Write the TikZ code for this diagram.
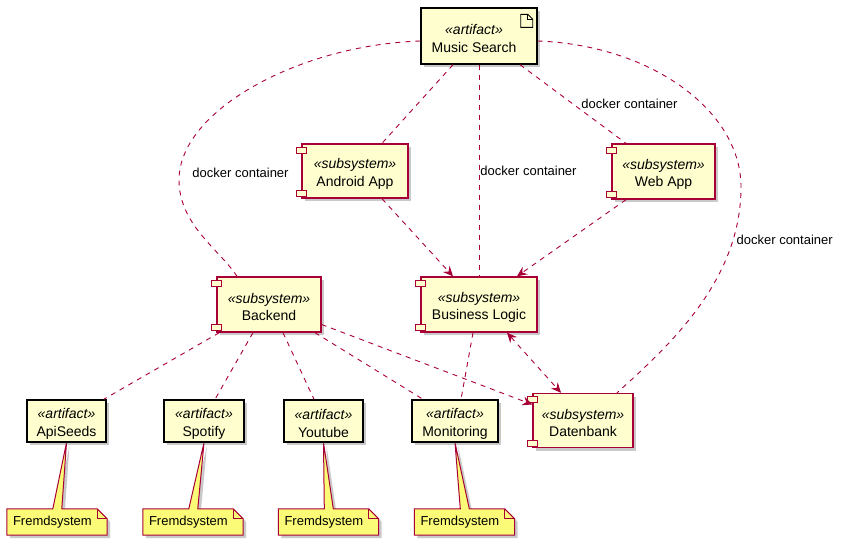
\documentclass[tikz,border=0pt]{standalone}
\usepackage{fontspec}
\setmainfont{Liberation Sans}
\usetikzlibrary{shadows,arrows.meta,calc}
\definecolor{umlred}{HTML}{A80036}
\definecolor{umlfill}{HTML}{FEFECE}
\definecolor{notefill}{HTML}{FBFB77}
\pgfdeclarelayer{bg}
\pgfsetlayers{bg,main}
\newcommand\stereo[1]{\rule{0pt}{15.5pt}\textit{«#1»}}
\begin{document}
\begin{tikzpicture}[x=1pt,y=-1pt,
  shadowed/.style={drop shadow={shadow xshift=3pt,shadow yshift=-3pt,opacity=0.3,fill=black!70}},
  box/.style={rectangle, fill=umlfill, line width=1.4pt, inner sep=0pt, align=center,
    font=\fontsize{14}{17.5}\selectfont, shadowed},
  artifact/.style={box, draw=black},
  component/.style={box, draw=umlred},
  compsmall/.style={draw=umlred, fill=umlfill, line width=1.1pt},
  notebox/.style={rectangle, inner xsep=6pt, inner ysep=0pt, text width=88pt, minimum height=26pt,
    align=left, font=\fontsize{13}{15}\selectfont},
  notebody/.style={fill=notefill, draw=umlred, line width=1pt, shadowed},
  notefold/.style={draw=umlred, line width=1pt},
  lbl/.style={font=\fontsize{13}{15}\selectfont, inner sep=1pt},
  dep/.style={draw=umlred, line width=0.9pt, dash pattern=on 5pt off 5pt},
  arr/.style={dep, -{Stealth[length=10pt,width=9pt,inset=3.5pt]}},
  biarr/.style={dep, {Stealth[length=10pt,width=9pt,inset=3.5pt]}-{Stealth[length=10pt,width=9pt,inset=3.5pt]}}
]
\useasboundingbox (0,0) rectangle (842,546);

% artifact: Music Search
\node[artifact, minimum width=116pt, minimum height=56pt] (ms) at (479,36)
  {\stereo{artifact}\hspace*{10pt}\\Music Search\hspace*{10pt}};
\draw[black, line width=0.9pt] ([xshift=-17pt,yshift=-7pt]ms.north east) -- ++(7,0) -- ++(5,5) -- ++(0,8) -- ++(-12,0) -- cycle;
\draw[black, line width=0.9pt] ([xshift=-10pt,yshift=-7pt]ms.north east) -- ++(0,5) -- ++(5,0);

% components
\node[component, minimum width=106pt, minimum height=54pt] (android) at (355,171) {\stereo{subsystem}\\Android App};
\node[component, minimum width=103pt, minimum height=55pt] (web) at (663.5,171.5) {\stereo{subsystem}\\Web App};
\node[component, minimum width=104pt, minimum height=55pt] (backend) at (269,304.5) {\stereo{subsystem}\\Backend};
\node[component, minimum width=116pt, minimum height=55pt] (bl) at (479,304.5) {\stereo{subsystem}\\Business Logic};
\node[component, minimum width=100pt, minimum height=54pt] (db) at (583,420.5) {\stereo{subsystem}\\Datenbank};
\foreach \c in {android,web,backend,bl,db}{
  \draw[compsmall] ([xshift=-5pt,yshift=-4pt]\c.north west) rectangle ++(10,6);
  \draw[compsmall] ([xshift=-5pt,yshift=8pt]\c.south west) rectangle ++(10,6);
}

% artifacts
\node[artifact, minimum width=79pt, minimum height=42pt] (api) at (66.5,421) {\stereo{artifact}\\ApiSeeds};
\node[artifact, minimum width=80pt, minimum height=42pt] (spot) at (204,421) {\stereo{artifact}\\Spotify};
\node[artifact, minimum width=79pt, minimum height=42pt] (yt) at (323.5,421) {\stereo{artifact}\\Youtube};
\node[artifact, minimum width=86pt, minimum height=42pt] (mon) at (455,421) {\stereo{artifact}\\Monitoring};

% notes
\node[notebox] (n1) at (57,522) {Fremdsystem};
\node[notebox] (n2) at (193,522) {Fremdsystem};
\node[notebox] (n3) at (328.5,522) {Fremdsystem};
\node[notebox] (n4) at (464.5,522) {Fremdsystem};
\begin{pgfonlayer}{bg}
\foreach \n/\a in {n1/api,n2/spot,n3/yt,n4/mon}{
  \draw[notebody] (\n.north west) -- ([xshift=46pt]\n.north west) -- (\a.south)
    -- ([xshift=55pt]\n.north west) -- ([xshift=-10pt]\n.north east) -- ([yshift=-10pt]\n.north east)
    -- (\n.south east) -- (\n.south west) -- cycle;
  \draw[notefold] ([xshift=-10pt]\n.north east) |- ([yshift=-10pt]\n.north east);
}
\end{pgfonlayer}

% connectors from Music Search
\draw[dep] ([yshift=-5pt]ms.west) .. controls (300,45) and (179,110) .. (179,180)
  node[lbl, anchor=west, xshift=12pt, yshift=7pt] {docker container}
  .. controls (179,225) and (220,250) .. ([xshift=-32pt]backend.north);
\draw[dep] ([xshift=-26pt]ms.south) -- ([xshift=27pt]android.north);
\draw[dep] (ms.south) -- node[lbl, midway, anchor=west] {docker container} (bl.north);
\draw[dep] ([xshift=41pt]ms.south) -- node[lbl, pos=0.5, anchor=west, xshift=7pt] {docker container} ([xshift=-37.5pt]web.north);
\draw[dep] ([yshift=-5pt]ms.east) .. controls (650,45) and (741,110) .. (741,187)
  .. controls (741,280) and (670,345) .. node[lbl, pos=0.2, anchor=west, xshift=2pt] {docker container} ([xshift=34pt]db.north);

% arrows into Business Logic / Datenbank
\draw[arr] ([xshift=27pt]android.south) -- ([xshift=-26pt]bl.north);
\draw[arr] ([xshift=-37.5pt]web.south) -- ([xshift=38pt]bl.north);
\draw[biarr] ([xshift=28pt]bl.south) -- ([xshift=-22pt]db.north);
\draw[arr] ([yshift=-20pt]backend.east) -- ([yshift=16pt]db.west);

% backend to artifacts
\draw[dep] ([xshift=3pt]backend.south west) -- ([xshift=-3pt]api.north east);
\draw[dep] ([xshift=-16pt]backend.south) -- ([xshift=11pt]spot.north);
\draw[dep] ([xshift=14pt]backend.south) -- ([xshift=-9.5pt]yt.north);
\draw[dep] ([xshift=46pt]backend.south) -- ([xshift=-32pt]mon.north);
\draw[dep] ([xshift=-6pt]bl.south) -- ([xshift=6pt]mon.north);
\end{tikzpicture}
\end{document}
